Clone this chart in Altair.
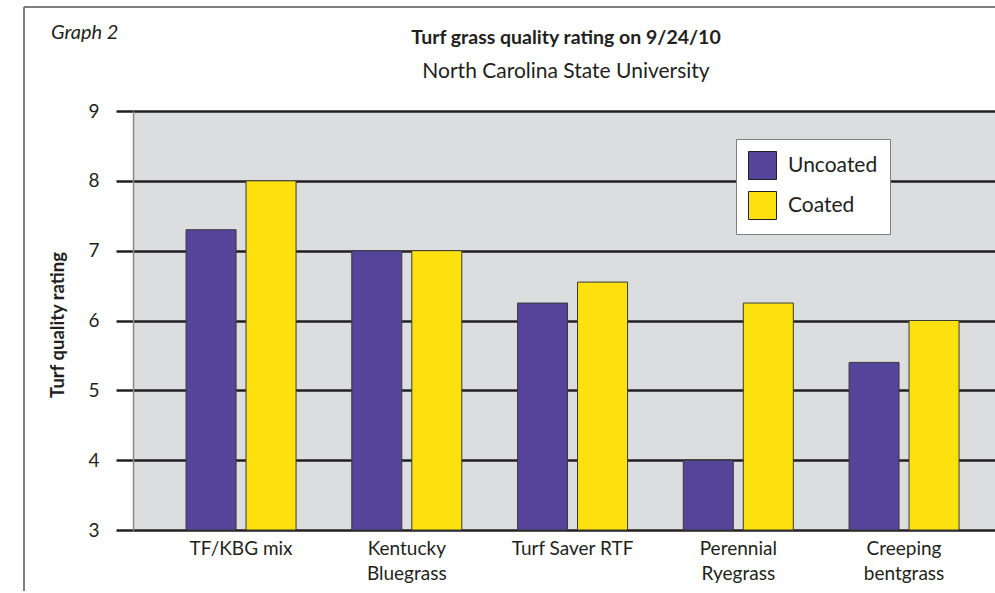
import altair as alt
import pandas as pd

# Turf grass quality ratings, 9/24/10 (North Carolina State University)
categories = ["TF/KBG mix", "Kentucky|Bluegrass", "Turf Saver RTF",
              "Perennial|Ryegrass", "Creeping|bentgrass"]
uncoated = [7.3, 7.0, 6.25, 4.0, 5.4]
coated = [8.0, 7.0, 6.55, 6.25, 6.0]
series = ["Uncoated", "Coated"]
colors = ["#55449a", "#fde10e"]
y_ticks = [3, 4, 5, 6, 7, 8, 9]

rows = []
for cat, u, c in zip(categories, uncoated, coated):
    rows.append({"variety": cat, "series": "Uncoated", "rating": u})
    rows.append({"variety": cat, "series": "Coated", "rating": c})
df = pd.DataFrame(rows)

FONT = "Lato"
INK = "#231f20"
W, H = 862, 419

bars = alt.Chart(df).mark_bar(stroke="#3a3a3a", strokeWidth=1).encode(
    x=alt.X("variety:N", sort=categories, title=None,
            scale=alt.Scale(paddingInner=0.3363, paddingOuter=0.2685,
                            align=0.596, round=False),
            axis=alt.Axis(labelExpr="split(datum.value, '|')", labelAngle=0,
                          labelFontSize=19, labelFont=FONT, labelColor=INK,
                          labelLineHeight=25, labelPadding=9, ticks=False,
                          domain=False)),
    xOffset=alt.XOffset("series:N", sort=series,
                        scale=alt.Scale(paddingInner=1 / 6, paddingOuter=0,
                                        round=False)),
    y=alt.Y("rating:Q", title=None,
            scale=alt.Scale(domain=[3, 9], zero=False, nice=False),
            axis=alt.Axis(values=y_ticks, grid=True, gridColor=INK,
                          gridWidth=2.5, gridOpacity=1, tickColor=INK,
                          tickWidth=2.5, tickSize=17, labelFontSize=19,
                          labelFont=FONT, labelColor=INK, labelPadding=17,
                          domainColor="#8a8a8a", domainWidth=1.5)),
    y2=alt.datum(3),
    color=alt.Color("series:N", sort=series,
                    scale=alt.Scale(domain=series, range=colors),
                    legend=alt.Legend(orient="none", legendX=603, legendY=28,
                                      title=None, symbolType="square",
                                      symbolSize=784, symbolStrokeColor=INK,
                                      symbolStrokeWidth=1, symbolOpacity=1,
                                      labelFontSize=21, labelFont=FONT,
                                      labelColor=INK, fillColor="white",
                                      strokeColor="#7f7f7f",
                                      padding=12, rowPadding=7,
                                      labelOffset=11)),
)

one = pd.DataFrame({"k": [0]})

# outer frame (left and top edges)
frame_left = alt.Chart(one).mark_rule(color="#555555", strokeWidth=1.5).encode(
    x=alt.value(-109), y=alt.value(-104), y2=alt.value(480))
frame_top = alt.Chart(one).mark_rule(color="#555555", strokeWidth=1.5).encode(
    x=alt.value(-109), x2=alt.value(W), y=alt.value(-104))

def label(text, x, y, size, align="center", weight="normal", style="normal",
          angle=0, baseline="alphabetic"):
    return alt.Chart(pd.DataFrame({"t": [text]})).mark_text(
        font=FONT, fontSize=size, align=align, fontWeight=weight,
        fontStyle=style, angle=angle, baseline=baseline, color=INK,
    ).encode(text="t:N", x=alt.value(x), y=alt.value(y))

graph_tag = label("Graph 2", -82, -72, 20, align="left", style="italic")
title = label("Turf grass quality rating on 9/24/10", 433, -67, 19.5,
              weight="bold")
subtitle = label("North Carolina State University", 433, -33, 21)
y_title = label("Turf quality rating", -75, 214, 18.5, angle=270,
                baseline="middle", weight="bold")

chart = alt.layer(
    bars, frame_left, frame_top, graph_tag, title, subtitle, y_title
).properties(
    width=W, height=H,
    autosize=alt.AutoSizeParams(type="none"),
    padding={"left": 133, "top": 111, "right": 0, "bottom": 63},
    background="white",
).configure_view(fill="#dcdddf", stroke=None)

chart.save("out.html", embed_options={"renderer": "svg", "actions": False})
